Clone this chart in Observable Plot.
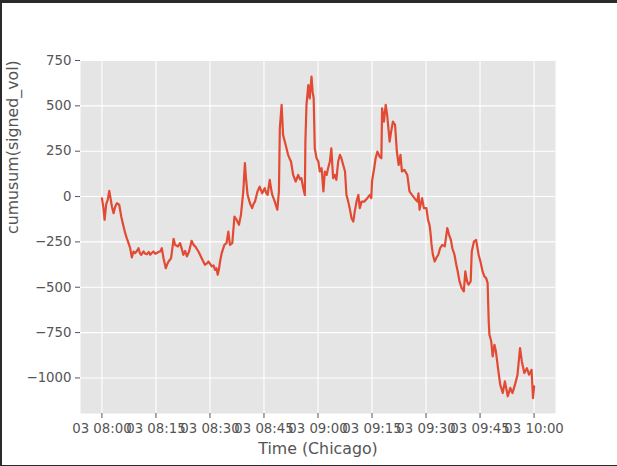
<!DOCTYPE html>
<html>
<head>
<meta charset="utf-8">
<script src="https://cdn.jsdelivr.net/npm/d3@7"></script>
<script src="https://cdn.jsdelivr.net/npm/@observablehq/plot@0.6"></script>
<style>
  html, body { margin: 0; padding: 0; background: #fff; }
  #frame {
    width: 615px; height: 462px;
    border-top: 3px solid #2a2a2a;
    border-left: 2px solid #2a2a2a;
    border-bottom: 1px solid #2a2a2a;
    overflow: hidden;
  }
</style>
</head>
<body>
<div id="frame"></div>
<script>
// minutes after 03 08:00 (Chicago) and cumulative signed volume
const minutes = [0.0,0.4,0.74,1.2,1.6,2.03,2.4,2.77,3.23,3.7,4.16,4.8,5.36,6.0,6.47,6.93,7.39,7.85,8.31,8.78,9.24,9.7,10.16,10.5,10.9,11.55,12.0,12.47,13.0,13.4,13.9,14.3,14.8,15.24,15.7,16.17,16.63,17.1,17.74,18.1,18.5,19.2,19.9,20.3,21.1,21.7,22.2,22.6,23.1,23.6,24.2,24.9,25.4,25.9,26.8,27.7,28.6,29.1,29.6,30.5,31.0,31.4,31.8,32.15,32.5,32.8,33.26,34.0,34.6,35.1,35.55,36.2,36.8,37.4,38.05,38.6,39.25,39.7,40.0,40.45,41.1,41.7,42.1,42.5,43.2,43.8,44.5,45.2,45.6,46.0,46.6,47.0,47.3,48.0,48.7,49.15,49.4,49.9,50.3,51.0,51.7,52.1,52.5,53.1,53.8,54.5,55.0,55.4,55.9,56.35,56.5,56.8,57.3,57.7,58.2,58.5,58.8,59.1,59.6,60.1,60.5,61.0,61.5,61.9,62.4,62.8,63.3,63.7,64.2,64.7,65.1,65.6,66.1,66.5,67.0,67.5,67.9,68.4,68.8,69.3,69.8,70.2,70.7,71.2,71.6,72.1,72.8,73.7,74.4,74.8,75.0,75.6,76.0,76.5,77.1,77.6,77.8,78.3,78.8,79.2,79.9,80.3,80.8,81.4,81.9,82.4,82.9,83.3,84.0,84.8,85.4,86.1,86.8,87.6,87.9,88.2,88.9,89.4,90.1,90.55,91.0,91.3,91.5,91.9,92.4,92.8,93.4,93.9,94.5,95.2,95.9,96.4,96.9,97.3,97.9,98.4,98.8,99.3,99.9,100.5,100.9,101.4,101.8,102.4,102.7,103.3,103.9,104.6,105.1,105.7,106.2,106.7,107.1,107.4,107.6,108.1,108.5,109.0,109.4,110.1,110.6,111.3,111.9,112.7,113.4,114.0,114.7,115.4,116.1,116.6,117.3,118.0,118.6,119.3,119.7,120.0];
const signedVolCum = [-10,-60,-128,-40,-20,31,-10,-55,-92,-55,-37,-45,-110,-165,-202,-232,-257,-285,-336,-303,-312,-300,-285,-310,-321,-303,-315,-318,-305,-321,-310,-303,-315,-312,-305,-303,-285,-340,-395,-375,-358,-340,-233,-266,-275,-257,-290,-321,-300,-330,-303,-244,-265,-275,-303,-340,-376,-370,-358,-385,-380,-404,-395,-431,-400,-358,-312,-266,-257,-193,-266,-257,-110,-128,-156,-101,28,184,101,9,-37,-64,-40,-28,28,55,18,46,20,9,92,40,9,-28,-73,28,376,505,340,285,230,210,193,119,83,119,95,101,46,9,303,505,615,541,661,578,541,266,211,193,138,156,28,138,119,156,193,266,101,119,92,193,230,211,174,138,9,-28,-64,-119,-138,-83,-28,9,-64,-28,-28,-9,9,-9,83,156,211,248,220,211,486,413,505,450,303,358,413,395,248,174,230,138,147,119,28,9,-9,-28,18,-73,-9,-64,-64,-128,-160,-211,-260,-321,-358,-340,-321,-285,-266,-275,-174,-211,-239,-285,-321,-376,-413,-468,-505,-523,-413,-468,-486,-468,-303,-248,-239,-321,-358,-413,-440,-450,-477,-688,-762,-798,-881,-817,-853,-964,-1037,-1083,-1019,-1101,-1055,-1083,-1037,-982,-835,-909,-973,-946,-982,-955,-1111,-1046];

const xTickMinutes = [0, 15, 30, 45, 60, 75, 90, 105, 120];
const xTickLabels = ["03 08:00","03 08:15","03 08:30","03 08:45","03 09:00","03 09:15","03 09:30","03 09:45","03 10:00"];
const yTicks = [-1000, -750, -500, -250, 0, 250, 500, 750];

const base = Date.UTC(2023, 0, 3, 8, 0, 0);
const toDate = m => new Date(base + m * 60000);
const data = minutes.map((m, i) => ({t: toDate(m), v: signedVolCum[i]}));
const xTickDates = xTickMinutes.map(toDate);
const labelFor = new Map(xTickDates.map((d, i) => [+d, xTickLabels[i]]));

const W = 615, H = 462;
const mL = 78, mR = 62, mT = 57, mB = 52;

const chart = Plot.plot({
  width: W, height: H,
  marginLeft: mL, marginRight: mR, marginTop: mT, marginBottom: mB,
  style: {fontFamily: "'DejaVu Sans', sans-serif", fontSize: "13.3px", color: "#555", background: "#fff"},
  x: {type: "utc", domain: [toDate(-5.95), toDate(125.95)]},
  y: {domain: [-1196, 750]},
  marks: [
    Plot.frame({fill: "#E5E5E5", stroke: null}),
    Plot.gridX(xTickDates, {stroke: "#fff", strokeOpacity: 1, strokeWidth: 1.1}),
    Plot.gridY(yTicks, {stroke: "#fff", strokeOpacity: 1, strokeWidth: 1.1}),
    Plot.line(data, {x: "t", y: "v", stroke: "#E24A33", strokeWidth: 2.2, strokeLinejoin: "round"}),
    Plot.axisX(xTickDates, {tickSize: 5, tickPadding: 5, tickFormat: d => labelFor.get(+d), label: null, fontSize: 13.3, stroke: "#555"}),
    Plot.axisY(yTicks, {tickSize: 5, tickPadding: 4, tickFormat: d => d < 0 ? "\u2212" + Math.abs(d) : String(d), label: null, fontSize: 13.3, stroke: "#555"}),
    Plot.text(["Time (Chicago)"], {frameAnchor: "bottom", dy: 35, fontSize: 15.8, fill: "#555", lineAnchor: "middle"}),
    Plot.text(["cumusum(signed_vol)"], {frameAnchor: "left", dx: -68, dy: -3, rotate: -90, fontSize: 15.8, fill: "#555", lineAnchor: "middle"})
  ]
});
document.getElementById("frame").appendChild(chart);
</script>
</body>
</html>
